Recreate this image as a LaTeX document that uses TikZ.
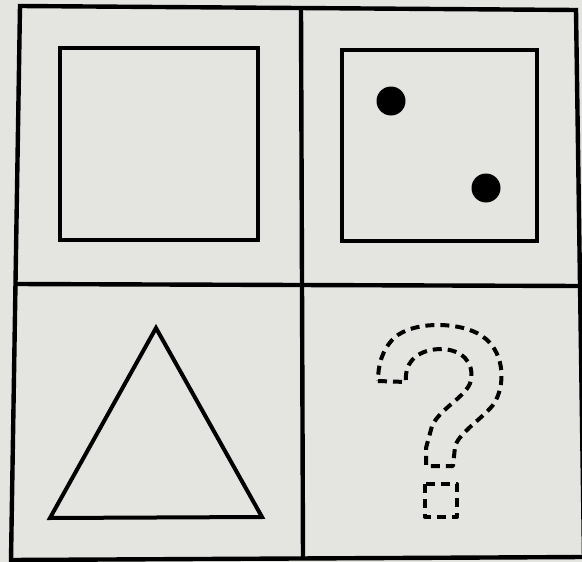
\documentclass[tikz,border=0pt]{standalone}
\usepackage{xcolor}
\usepackage{tikz}
\definecolor{paper}{RGB}{228,228,225}
\begin{document}
\begin{tikzpicture}[x=1pt,y=-1pt,
  frame/.style={line width=4.4pt,line join=miter},
  fig/.style={line width=4pt,line join=miter},
  spot/.style={circle,fill=black,inner sep=0pt,minimum size=29pt},
  qmark/.style={line width=4pt,dash pattern=on 9pt off 6pt,line join=round}]
\useasboundingbox (0,0) rectangle (582,562);
\fill[paper] (0,0) rectangle (582,562);
\begin{scope}
\clip (0,0) rectangle (582,562);
% outer grid
\coordinate (tl) at (20,6);
\coordinate (tr) at (576,10);
\coordinate (br) at (584,557);
\coordinate (bl) at (11,560);
\coordinate (mt) at (301,8);
\coordinate (mb) at (303,558);
\coordinate (ml) at (15,284);
\coordinate (mr) at (580,286);
\draw[frame] (tl) -- (tr) -- (br) -- (bl) -- cycle;
\draw[frame] (mt) -- (mb);
\draw[frame] (ml) -- (mr);
\end{scope}
% top left: empty square
\draw[fig] (60,48) rectangle (258,240);
% top right: square with two dots
\draw[fig] (342,50) rectangle (537,241);
\node[spot] (dotA) at (391,101) {};
\node[spot] (dotB) at (486,188) {};
% bottom left: triangle
\coordinate (apex) at (156,328);
\coordinate (left) at (50,518);
\coordinate (right) at (262,517);
\draw[fig] (apex) -- (right) -- (left) -- cycle;
% bottom right: dashed question mark
\draw[qmark] (378,381) -- (406,382)
  .. controls (404,360) and (420,349) .. (442,349)
  .. controls (462,350) and (474,362) .. (471,380)
  .. controls (468,396) and (440,408) .. (432,426)
  -- (426,448) -- (426,466) -- (453,466) -- (455,447)
  .. controls (458,432) and (490,414) .. (496,400)
  .. controls (506,380) and (503,350) .. (482,336)
  .. controls (462,322) and (414,320) .. (394,338)
  .. controls (382,350) and (378,365) .. cycle;
\draw[qmark] (425,484) rectangle (457,517);
\end{tikzpicture}
\end{document}
